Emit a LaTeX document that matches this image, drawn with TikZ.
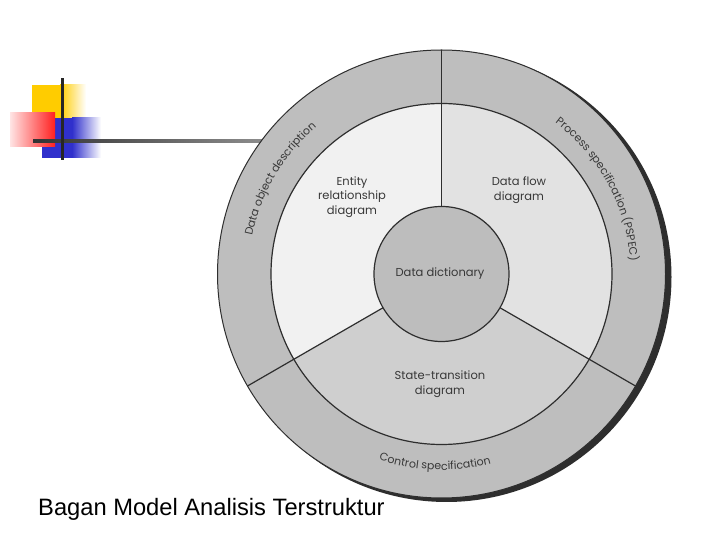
\documentclass[tikz,border=0pt]{standalone}
\usepackage{fontspec}
\setmainfont{Poppins}
\newfontfamily\capfont{Liberation Sans}
\usetikzlibrary{decorations.text,calc}
\definecolor{ringgray}{HTML}{BEBEBE}
\definecolor{erdfill}{HTML}{F1F1F1}
\definecolor{dfdfill}{HTML}{E2E2E2}
\definecolor{stdfill}{HTML}{CFCFCF}
\definecolor{ddfill}{HTML}{BDBDBD}
\definecolor{inkc}{HTML}{2E2E2E}
\definecolor{txtc}{HTML}{383838}
\definecolor{logoyellow}{HTML}{FFCC00}
\definecolor{logoblue}{HTML}{3030CC}
\definecolor{logored}{HTML}{FF2020}
\definecolor{logopink}{HTML}{FFE4E4}
\newcommand\ringfont{\fontsize{11}{13}\selectfont\color{txtc}}
\tikzset{
  sep/.style={draw=inkc, line width=1.2pt},
  lbl/.style={font=\fontsize{11.5}{14.5}\selectfont, text=txtc, align=center, inner sep=0pt},
}
\begin{document}
\begin{tikzpicture}[x=1pt,y=1pt]
\useasboundingbox (0,0) rectangle (720,540);
\fill[white] (0,0) rectangle (720,540);
% logo
\fill[logoyellow] (32,422) rectangle (60,455);
\shade[left color=logoyellow, right color=white] (60,422) rectangle (86,455);
\fill[logoblue] (42,382) rectangle (72,422);
\shade[left color=logoblue, right color=white] (72,382) rectangle (101,422);
\shade[left color=logopink, right color=logored] (10,393) rectangle (55,427);
\shade[left color=black!80, right color=black!45] (33,397.5) rectangle (262,400.5);
\fill[black!85] (60.5,380) rectangle (63.5,462);
% diagram
\coordinate (c) at (441.5,266);
\fill[inkc] ($(c)+(5,-3)$) circle (225);
\filldraw[fill=ringgray, draw=inkc, line width=1pt] (c) circle (224);
\fill[erdfill] (c) -- ++(90:170.5) arc[start angle=90,end angle=210,radius=170.5] -- cycle;
\fill[dfdfill] (c) -- ++(-30:170.5) arc[start angle=-30,end angle=90,radius=170.5] -- cycle;
\fill[stdfill] (c) -- ++(210:170.5) arc[start angle=210,end angle=330,radius=170.5] -- cycle;
\draw[sep] (c) circle (170.5);
\draw[sep] (c) ++(90:67.5) -- ++(90:156.5);
\draw[sep] (c) ++(210:67.5) -- ++(210:156.5);
\draw[sep] (c) ++(-30:67.5) -- ++(-30:156.5);
\filldraw[fill=ddfill, sep] (c) circle (67.5);
% labels
\node[lbl] (dd) at (440,266) {Data dictionary};
\node[lbl] (erd) at (352,343) {Entity\\relationship\\diagram};
\node[lbl] (dfd) at (519,350) {Data flow\\diagram};
\node[lbl] (std) at (440,156) {State-transition\\diagram};
% ring labels
\path[decorate, decoration={text along path, text align=center,
  text={|\ringfont|Data object description}}]
  (c) ++(187:193) arc[start angle=187,end angle=112,radius=193];
\path[decorate, decoration={text along path, text align=center,
  text={|\ringfont|Process specification (PSPEC)}}]
  (c) ++(70:189) arc[start angle=70,end angle=-13,radius=189];
\path[decorate, decoration={text along path, text align=center,
  text={|\ringfont|Control specification}}]
  (c) ++(232:196) arc[start angle=232,end angle=304,radius=196];
% caption
\node[anchor=base west, font=\capfont\fontsize{23.7}{28}\selectfont, inner sep=0pt] (cap) at (38,24) {Bagan Model Analisis Terstruktur};
\end{tikzpicture}
\end{document}
